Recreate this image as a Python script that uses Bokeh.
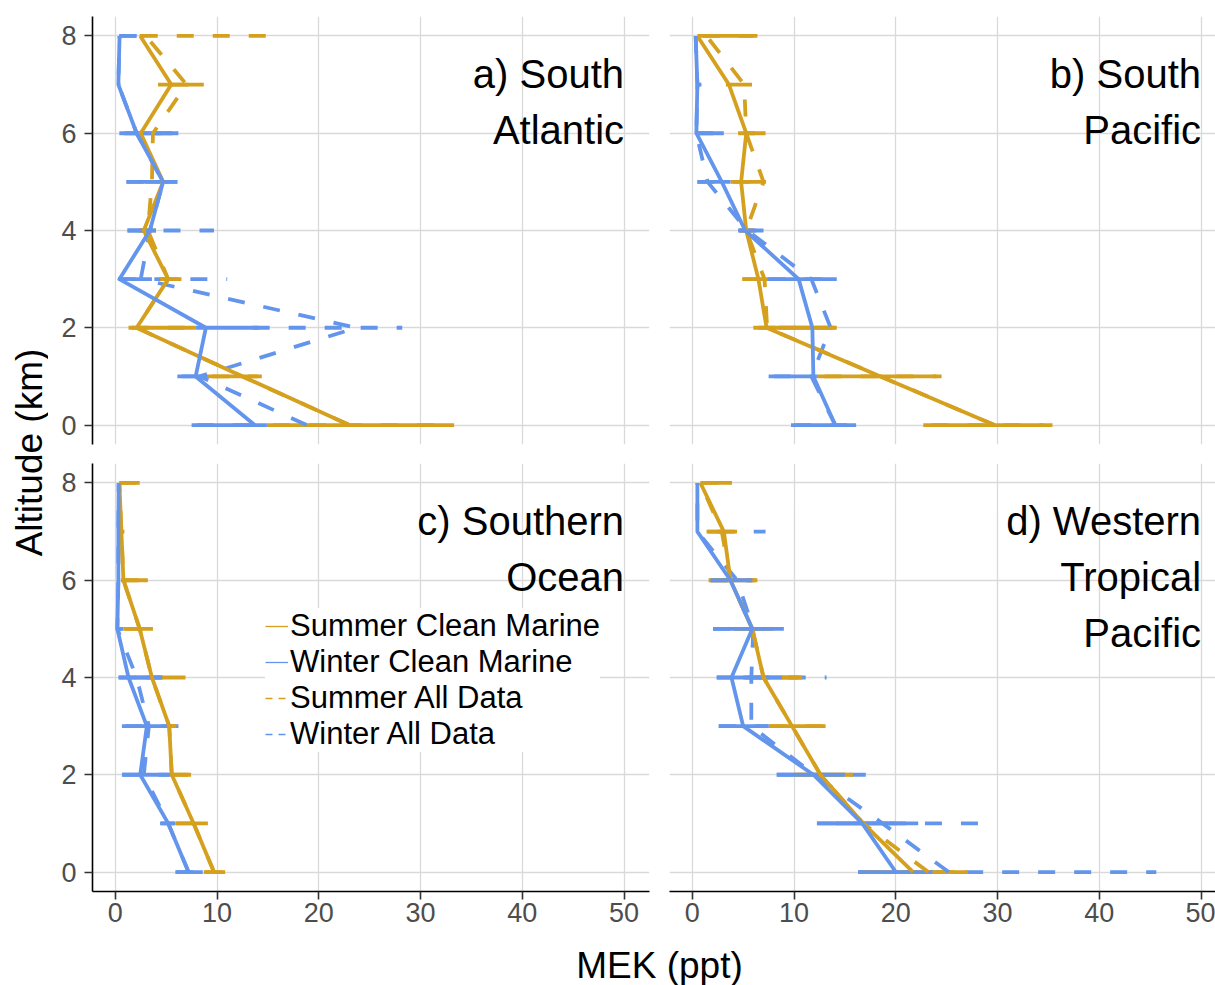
import math

from bokeh.embed import file_html
from bokeh.layouts import column, row
from bokeh.models import (ColumnDataSource, FixedTicker, Grid, Label, Legend,
                          LegendItem, Range1d)
from bokeh.plotting import figure
from bokeh.resources import INLINE

NAN = float("nan")

# Altitude levels (km)
ALT = [0, 1, 2, 3, 4, 5, 6, 7, 8]

# ---- a) South Atlantic ------------------------------------------------------
a_sc = [23.0, 12.5, 2.1, 5.2, 2.8, 4.7, 2.5, 5.5, 2.45]
a_sc_lo = [14.9, 9.1, 1.3, 4.4, 2.2, 4.0, 2.0, 4.2, 2.4]
a_sc_hi = [33.3, 14.4, 7.9, 6.5, 3.6, 5.4, 3.0, 8.7, 2.9]
a_wc = [13.7, 7.9, 8.9, 0.4, 3.4, 4.7, 2.1, 0.3, 0.42]
a_wc_lo = [7.5, 6.1, 7.9, 0.3, 1.2, 1.1, 0.9, 0.3, 0.4]
a_wc_hi = [14.9, 9.1, 14.1, 3.6, 4.0, 6.1, 6.2, 0.4, 2.1]
a_sa = [23.0, 12.5, 2.1, 5.2, 3.2, 3.6, 3.7, 7.0, 3.0]
a_sa_lo = [15.5, 9.5, 1.6, 4.6, 2.5, 3.0, 3.0, 5.5, 2.5]
a_sa_hi = [32.0, 14.0, 7.5, 6.3, 4.0, 4.3, 4.5, 8.5, 14.9]
a_wa = [18.8, 8.3, 23.7, 2.5, 3.4, 4.7, 2.1, 0.3, 0.42]
a_wa_lo = [8.0, 6.5, 13.5, 0.3, 1.2, 1.1, 0.4, 0.3, 0.4]
a_wa_hi = [14.5, 9.0, 28.2, 11.0, 9.7, 6.1, 6.2, 0.5, 2.1]

# ---- b) South Pacific -------------------------------------------------------
b_sc = [29.7, 18.5, 7.3, 6.5, 5.3, 4.8, 5.3, 3.6, 0.5]
b_sc_lo = [22.7, 12.25, 6.0, 4.9, 4.8, 3.75, 5.3, 3.3, 0.5]
b_sc_hi = [35.4, 24.5, 14.2, 7.35, 6.0, 7.25, 7.2, 4.2, 6.4]
b_wc = [14.05, 11.9, 11.8, 10.45, 5.2, 2.9, 0.4, 0.5, 0.33]
b_wc_lo = [9.7, 7.5, NAN, 7.35, 4.5, 0.5, 0.4, 0.6, NAN]
b_wc_hi = [16.1, 12.25, NAN, 14.2, 7.0, 3.75, 3.1, 0.9, NAN]
b_sa = [29.7, 18.5, 7.35, 7.1, 5.3, 7.0, 5.3, 5.1, 1.4]
b_sa_lo = [23.5, 13.0, 6.5, 5.0, 4.6, 4.0, 4.5, 4.2, 1.0]
b_sa_hi = [34.5, 24.0, 14.0, 7.2, 6.0, 7.0, 7.0, 7.25, 6.0]
b_wa = [14.05, 11.7, 13.6, 11.7, 5.4, 1.5, 0.4, 0.5, 0.33]
b_wa_lo = [10.0, 8.0, 8.5, 7.5, 4.6, 0.5, 0.4, 0.5, NAN]
b_wa_hi = [16.0, 12.0, 15.0, 14.0, 6.8, 2.5, 3.0, 0.8, NAN]

# ---- c) Southern Ocean ------------------------------------------------------
c_sc = [9.7, 7.7, 5.55, 5.3, 3.6, 2.4, 0.8, 0.6, 0.4]
c_sc_lo = [8.7, 5.9, 5.5, 5.3, 2.0, 0.8, 0.55, 0.5, 0.4]
c_sc_hi = [10.8, 9.1, 7.45, 6.0, 6.9, 3.7, 3.2, 0.9, 2.4]
c_wc = [7.2, 5.2, 2.45, 3.1, 1.3, 0.2, 0.3, 0.3, 0.33]
c_wc_lo = [5.9, 4.4, 0.65, 0.65, 0.3, 0.2, NAN, NAN, NAN]
c_wc_hi = [8.6, 5.9, 5.5, 5.3, 4.6, 0.8, NAN, NAN, NAN]
c_sa = [9.7, 7.7, 5.55, 5.3, 3.6, 2.4, 0.8, 0.6, 0.4]
c_sa_lo = [8.8, 6.0, 5.5, 5.3, 3.0, 1.0, 0.6, 0.5, 0.4]
c_sa_hi = [10.6, 9.0, 7.3, 5.9, 6.5, 3.5, 3.0, 0.8, 2.2]
c_wa = [7.2, 5.2, 2.8, 3.3, 2.1, 0.2, 0.3, 0.3, 0.33]
c_wa_lo = [6.0, 4.5, 0.7, 1.0, 0.4, 0.2, NAN, NAN, NAN]
c_wa_hi = [8.4, 5.8, 5.3, 6.5, 4.4, 0.7, NAN, NAN, NAN]

# ---- d) Western Tropical Pacific -------------------------------------------
d_sc = [21.7, 16.8, 12.6, 9.8, 7.0, 5.9, 3.75, 3.1, 0.8]
d_sc_lo = [16.5, 14.0, 10.0, 7.5, 5.0, 4.0, 1.6, 1.4, 0.8]
d_sc_hi = [27.1, 20.0, 15.8, 13.1, 10.8, 8.0, 6.4, 4.4, 3.9]
d_wc = [20.0, 16.7, 11.9, 5.0, 3.85, 5.9, 3.75, 0.5, 0.5]
d_wc_lo = [16.3, 12.25, 8.3, 2.6, 2.4, 2.05, 1.8, NAN, NAN]
d_wc_hi = [23.6, 22.2, 15.0, 7.5, 8.8, 9.0, 5.9, NAN, NAN]
d_sa = [23.2, 16.8, 12.6, 9.8, 7.0, 5.9, 3.75, 2.9, 0.8]
d_sa_lo = [17.0, 14.0, 10.0, 7.6, 5.2, 4.2, 1.8, 1.5, 0.9]
d_sa_hi = [27.0, 20.0, 15.5, 13.0, 10.5, 7.8, 6.2, 4.2, 3.7]
d_wa = [25.2, 18.7, 12.0, 5.8, 5.8, 6.0, 4.4, 0.5, 0.5]
d_wa_lo = [16.3, 12.25, 8.3, 2.6, 2.4, 2.05, 1.8, 2.5, NAN]
d_wa_hi = [45.6, 28.6, 17.3, 7.5, 13.2, 9.0, 5.9, 7.2, NAN]

SERIES_NAMES = ["Summer Clean Marine", "Winter Clean Marine",
                "Summer All Data", "Winter All Data"]
X_TICKS = [0, 10, 20, 30, 40, 50]
Y_TICKS = [0, 2, 4, 6, 8]

SUMMER = "#D4A01E"
WINTER = "#6495ED"
FONT = "Liberation Sans"
DASH = "17 19"
LW = 3.8
GRID_COLOR = "#D9D9D9"

X_START, X_END_FULL = -2.24, 52.5
FRAME_W_LEFT, FRAME_W_RIGHT, FRAME_H = 557, 546, 428
PX_PER_UNIT = FRAME_W_LEFT / (X_END_FULL - X_START)
X_END_RIGHT = X_START + FRAME_W_RIGHT / PX_PER_UNIT


def make_panel(frame_w, x_end, borders, show_x, show_y, series, title_lines):
    left, right, top, bottom = borders
    p = figure(frame_width=frame_w, frame_height=FRAME_H,
               x_range=Range1d(X_START, x_end), y_range=Range1d(-0.4, 8.4),
               x_axis_location="below" if show_x else None,
               y_axis_location="left" if show_y else None,
               min_border_left=left, min_border_right=right,
               min_border_top=top, min_border_bottom=bottom,
               output_backend="svg", toolbar_location=None)
    p.outline_line_color = None
    p.background_fill_color = "white"
    p.border_fill_color = "white"

    # replace default grids by fixed-tick ones
    p.center = [c for c in p.center if not isinstance(c, Grid)]
    for dim, ticks in ((0, X_TICKS), (1, Y_TICKS)):
        g = Grid(dimension=dim, ticker=FixedTicker(ticks=ticks),
                 grid_line_color=GRID_COLOR, grid_line_width=1.3)
        p.add_layout(g, "center")

    for ax, ticks in ((p.xaxis, X_TICKS), (p.yaxis, Y_TICKS)):
        if len(ax) == 0:
            continue
        ax.ticker = FixedTicker(ticks=ticks)
        ax.axis_line_color = "black"
        ax.axis_line_width = 1.6
        ax.major_tick_line_color = "#333333"
        ax.major_tick_line_width = 1.6
        ax.major_tick_out = 8
        ax.major_tick_in = 0
        ax.minor_tick_out = 0
        ax.minor_tick_in = 0
        ax.major_label_text_font = FONT
        ax.major_label_text_font_size = "27px"
        ax.major_label_text_color = "#4D4D4D"
    if show_x:
        p.xaxis.major_label_standoff = 3
    if show_y:
        p.yaxis.major_label_standoff = 8

    # error bars first (all-data, then clean), then profiles
    for vals, lo, hi, color, dash in series:
        keep = [i for i in range(len(ALT))
                if not (math.isnan(lo[i]) or math.isnan(hi[i]))]
        src = ColumnDataSource(dict(y=[ALT[i] for i in keep],
                                    x0=[lo[i] for i in keep],
                                    x1=[hi[i] for i in keep]))
        p.segment(x0="x0", y0="y", x1="x1", y1="y", source=src,
                  line_color=color, line_width=LW, line_dash=dash)
    for vals, lo, hi, color, dash in series:
        p.line(x=vals, y=ALT, line_color=color, line_width=LW,
               line_dash=dash, line_join="round")

    base = [7.21, 6.06, 4.91]
    for txt, yv in zip(title_lines, base):
        p.add_layout(Label(x=50, y=yv, text=txt, text_align="right",
                           text_baseline="alphabetic", text_font=FONT,
                           text_font_size="40px", text_color="black"))
    return p


def series_of(sc, sc_lo, sc_hi, wc, wc_lo, wc_hi, sa, sa_lo, sa_hi, wa, wa_lo, wa_hi):
    return [
        (wa, wa_lo, wa_hi, WINTER, DASH),
        (sa, sa_lo, sa_hi, SUMMER, DASH),
        (sc, sc_lo, sc_hi, SUMMER, "solid"),
        (wc, wc_lo, wc_hi, WINTER, "solid"),
    ]


pa = make_panel(FRAME_W_LEFT, X_END_FULL, (44, 10, 16, 10), False, True,
                series_of(a_sc, a_sc_lo, a_sc_hi, a_wc, a_wc_lo, a_wc_hi,
                          a_sa, a_sa_lo, a_sa_hi, a_wa, a_wa_lo, a_wa_hi),
                ["a) South", "Atlantic"])
pb = make_panel(FRAME_W_RIGHT, X_END_RIGHT, (10, 0, 16, 10), False, False,
                series_of(b_sc, b_sc_lo, b_sc_hi, b_wc, b_wc_lo, b_wc_hi,
                          b_sa, b_sa_lo, b_sa_hi, b_wa, b_wa_lo, b_wa_hi),
                ["b) South", "Pacific"])
pc = make_panel(FRAME_W_LEFT, X_END_FULL, (44, 10, 9, 49), True, True,
                series_of(c_sc, c_sc_lo, c_sc_hi, c_wc, c_wc_lo, c_wc_hi,
                          c_sa, c_sa_lo, c_sa_hi, c_wa, c_wa_lo, c_wa_hi),
                ["c) Southern", "Ocean"])
pd = make_panel(FRAME_W_RIGHT, X_END_RIGHT, (10, 0, 9, 49), True, False,
                series_of(d_sc, d_sc_lo, d_sc_hi, d_wc, d_wc_lo, d_wc_hi,
                          d_sa, d_sa_lo, d_sa_hi, d_wa, d_wa_lo, d_wa_hi),
                ["d) Western", "Tropical", "Pacific"])

# legend keys (thin strokes) inside panel c; their data lie off-range so only
# the legend glyphs show
key_styles = [(SUMMER, "solid"), (WINTER, "solid"), (SUMMER, "7 6"), (WINTER, "7 6")]
items = []
for name, (color, dash) in zip(SERIES_NAMES, key_styles):
    r = pc.line(x=[-50, -40], y=[-50, -50], line_color=color, line_width=1.3,
                line_dash=dash)
    items.append(LegendItem(label=name, renderers=[r]))
legend = Legend(items=items, location=(173, 139), margin=0, padding=0,
                spacing=0, glyph_width=23, glyph_height=30, label_height=30,
                label_standoff=2, label_text_font=FONT,
                label_text_font_size="31px",
                label_text_color="black",
                background_fill_color="white", background_fill_alpha=1.0,
                border_line_color=None)
pc.add_layout(legend)


def text_strip(w, h, x, y, text, angle=0):
    f = figure(width=w, height=h, x_range=Range1d(0, w), y_range=Range1d(0, h),
               x_axis_location=None, y_axis_location=None, min_border=0,
               output_backend="svg", toolbar_location=None)
    f.center = [c for c in f.center if not isinstance(c, Grid)]
    f.outline_line_color = None
    f.add_layout(Label(x=x, y=y, text=text, angle=angle, angle_units="deg",
                       text_align="center", text_baseline="middle",
                       text_font=FONT, text_font_size="37px",
                       text_color="black"))
    return f


ylab = text_strip(48, 985, 28.5, 985 - 452, "Altitude (km)", angle=90)
xlab = text_strip(1167, 45, 611, 20, "MEK (ppt)")

layout = row(ylab, column(row(pa, pb), row(pc, pd), xlab))

open("out.html", "w").write(file_html(layout, INLINE))
